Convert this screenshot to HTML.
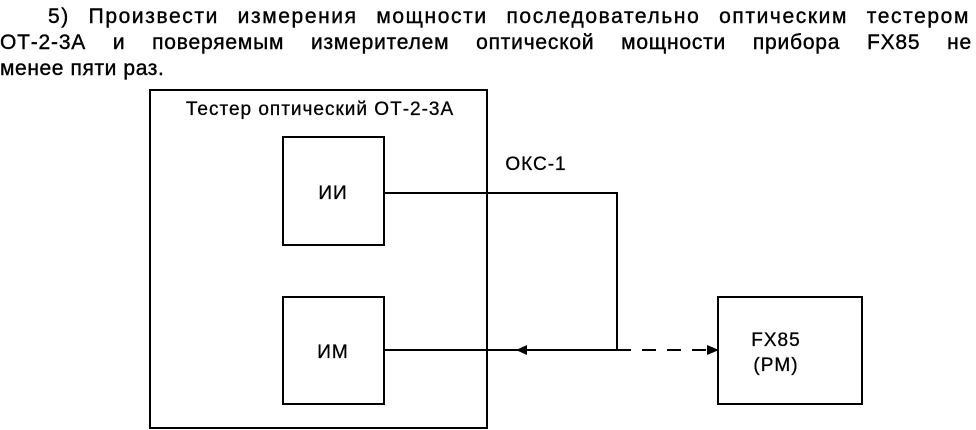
<!DOCTYPE html>
<html><head><meta charset="utf-8"><style>
body{margin:0;width:976px;height:430px;background:#fff;overflow:hidden;font-family:"Liberation Sans",sans-serif;}
.p{position:absolute;left:0;width:972px;font-size:21px;line-height:26px;text-align:justify;text-align-last:justify;white-space:nowrap;-webkit-text-stroke:0.4px #000}
</style></head><body>
<div class="p" style="top:4px;left:48px;width:922px;letter-spacing:1.6px">5) Произвести измерения мощности последовательно оптическим тестером</div>
<div class="p" style="top:30px;letter-spacing:0.8px">ОТ-2-3А и поверяемым измерителем оптической мощности прибора FX85 не</div>
<div class="p" style="top:56px;text-align-last:left;letter-spacing:0.6px">менее пяти раз.</div>
<svg width="976" height="430" style="position:absolute;left:0;top:0">
<g fill="none" stroke="#000" stroke-width="2">
<rect x="150" y="90" width="337" height="338"/>
<rect x="283" y="137" width="101" height="108"/>
<rect x="283" y="297" width="101" height="107"/>
<rect x="718" y="297" width="144" height="107"/>
<polyline points="384,193 617,193 617,350"/>
<line x1="384" y1="350" x2="617" y2="350"/>
<line x1="617" y1="350" x2="712" y2="350" stroke-dasharray="14,11"/>
</g>
<polygon points="516,350 527,345 527,355" fill="#000"/>
<polygon points="719,350 707,345 707,355" fill="#000"/>
<g font-family="Liberation Sans, sans-serif" font-size="19" letter-spacing="1" text-anchor="middle" stroke="#000" stroke-width="0.3">
<text x="320" y="115">Тестер оптический ОТ-2-3А</text>
<text x="333" y="199">ИИ</text>
<text x="333" y="358">ИМ</text>
<text x="536" y="170">ОКС-1</text>
<text x="776" y="346">FX85</text>
<text x="776" y="371">(PM)</text>
</g>
</svg>
</body></html>
